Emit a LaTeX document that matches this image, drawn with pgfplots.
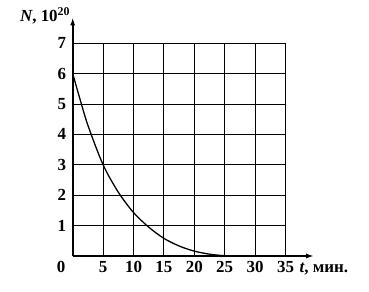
\documentclass[border=0pt]{standalone}
\usepackage{fontspec}
\setmainfont{Liberation Serif}
\usepackage{pgfplots}
\pgfplotsset{compat=1.18}
\usetikzlibrary{arrows.meta}
\begin{document}
\begin{tikzpicture}[x=1bp,y=1bp]
\path[use as bounding box] (0,0) rectangle (369,292);
\begin{axis}[
  at={(72.7bp,36bp)}, anchor=origin,
  scale only axis, width=212.8bp, height=212.8bp,
  xmin=0, xmax=35, ymin=0, ymax=7,
  axis lines=none,
  clip=false,
  xtick=\empty, ytick=\empty,
]
\draw[black, line width=0.9pt] (axis cs:0,7) -- (axis cs:35,7) -- (axis cs:35,0);
\foreach \v in {5,10,...,30} {\edef\tmp{\noexpand\draw[black, line width=0.9pt] (axis cs:\v,0) -- (axis cs:\v,7);}\tmp}
\foreach \v in {1,...,6} {\edef\tmp{\noexpand\draw[black, line width=0.9pt] (axis cs:0,\v) -- (axis cs:35,\v);}\tmp}
\draw[black, line width=2.2pt, -{Latex[length=8pt,width=5pt]}] (axis cs:0,0) -- (axis cs:0,7.85);
\draw[black, line width=2.2pt, -{Latex[length=8pt,width=5pt]}] (axis cs:0,0) -- (axis cs:39.7,0);
\foreach \v in {1,...,7} {\edef\tmp{\noexpand\node[anchor=east, font=\noexpand\fontsize{17}{17}\noexpand\selectfont\noexpand\bfseries] at (axis cs:-0.5,\v) {\v};}\tmp}
\foreach \v in {5,10,...,35} {\edef\tmp{\noexpand\node[anchor=base, font=\noexpand\fontsize{17}{17}\noexpand\selectfont\noexpand\bfseries] at (axis cs:\v,-0.55) {\v};}\tmp}
\node[anchor=base, font=\fontsize{17}{17}\selectfont\bfseries] at (axis cs:-1.9,-0.55) {0};
\node[anchor=base west, font=\fontsize{17}{17}\selectfont\bfseries, inner sep=0pt] at (axis cs:37.3,-0.55) {\textit{t}, мин.};
\node[anchor=base east, font=\fontsize{17}{17}\selectfont\bfseries, inner sep=0pt] at (axis cs:-0.4,7.7) {\textit{N}, 10\textsuperscript{20}};
\addplot[black, line width=1.3pt, smooth, tension=0.5] coordinates {
(0,6) (1,5.3) (2.5,4.3) (5,3) (7.5,2.1) (10,1.43) (12.5,0.95) (15,0.58) (17.5,0.33) (20,0.16) (22.5,0.06) (25,0.01) (27.5,0) (30,0)
};
\end{axis}
\end{tikzpicture}
\end{document}
